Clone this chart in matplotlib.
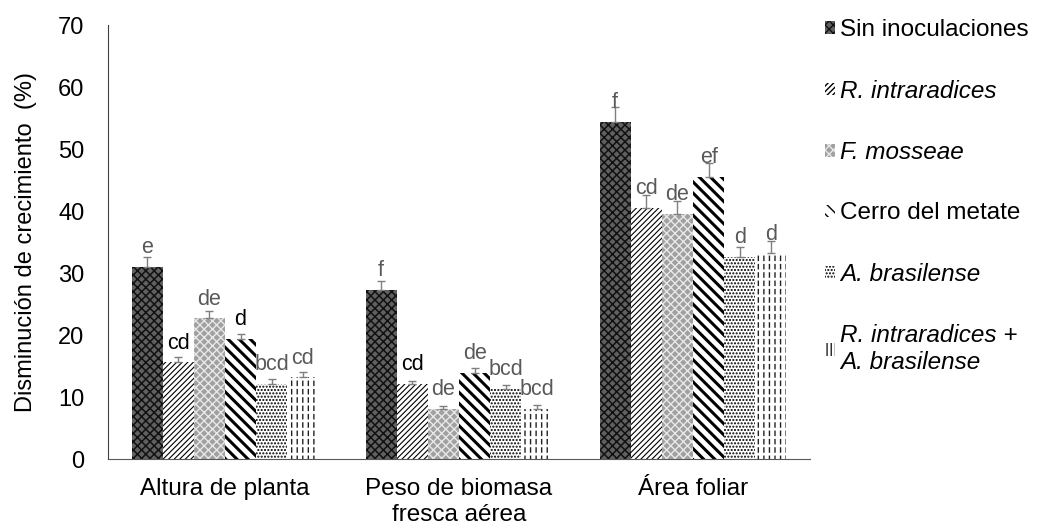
import numpy as np
import matplotlib.pyplot as plt
from matplotlib.patches import Patch

plt.rcParams['font.family'] = ['Liberation Sans', 'DejaVu Sans']

# variables medidas
variables = ['Altura de planta', 'Peso de biomasa\nfresca aérea', 'Área foliar']

# tratamientos
tratamientos = ['Sin inoculaciones', 'R. intraradices', 'F. mosseae',
                'Cerro del metate', 'A. brasilense',
                'R. intraradices +\nA. brasilense']
cursiva = [False, True, True, False, True, True]

# disminución de crecimiento (%) por tratamiento: [altura, biomasa, área]
sin_inoc = [31.0, 27.3, 54.4]
r_intra = [15.6, 12.1, 40.5]
f_moss = [22.7, 8.1, 39.6]
cerro = [19.4, 13.9, 45.5]
a_bras = [12.1, 11.3, 32.6]
r_a = [13.2, 8.1, 33.2]

# error estándar
err_sin = [1.6, 1.4, 2.4]
err_ri = [0.8, 0.5, 2.1]
err_fm = [1.2, 0.5, 2.1]
err_ce = [0.8, 0.8, 2.2]
err_ab = [0.8, 0.7, 1.6]
err_ra = [0.9, 0.6, 1.9]

# letras de comparación de medias
let_sin = ['e', 'f', 'f']
let_ri = ['cd', 'cd', 'cd']
let_fm = ['de', 'de', 'de']
let_ce = ['d', 'de', 'ef']
let_ab = ['bcd', 'bcd', 'd']
let_ra = ['cd', 'bcd', 'd']

valores = [sin_inoc, r_intra, f_moss, cerro, a_bras, r_a]
errores = [err_sin, err_ri, err_fm, err_ce, err_ab, err_ra]
letras = [let_sin, let_ri, let_fm, let_ce, let_ab, let_ra]

# estilo de cada serie: relleno, color de trama, trama, grosor de trama
estilos = [
    ('#606060', '#111111', 'xxxx', 1.1),
    ('white', 'black', '//////', 0.8),
    ('#a0a0a0', '#e8e8e8', 'xxxx', 1.0),
    ('white', 'black', '\\\\\\', 2.2),
    ('white', 'black', '.....', 1.0),
    ('white', '#222222', '|||', 1.0),
]
# letras en negro (el resto en gris)
negras = {(1, 0), (3, 0), (1, 1)}

fig = plt.figure(figsize=(10.46, 5.25), dpi=100)
ax = fig.add_axes([0.1033, 0.1257, 0.6711, 0.8263])

x = np.arange(len(variables))
ancho = 0.133
n = len(tratamientos)

for i in range(n):
    fc, hc, hatch, hlw = estilos[i]
    pos = x + (i - (n - 1) / 2) * ancho
    with plt.rc_context({'hatch.linewidth': hlw}):
        barras = ax.bar(pos, valores[i], ancho, facecolor=fc, edgecolor=hc,
                        hatch=hatch, linewidth=0)
    for b in barras:
        if hasattr(b, 'set_hatch_linewidth'):
            b.set_hatch_linewidth(hlw)
    if i == n - 1:
        # líneas blancas horizontales para cortar las verticales en guiones
        with plt.rc_context({'hatch.linewidth': 2.0}):
            cortes = ax.bar(pos, valores[i], ancho, facecolor='none',
                            edgecolor='white', hatch='--', linewidth=0)
        for b in cortes:
            if hasattr(b, 'set_hatch_linewidth'):
                b.set_hatch_linewidth(2.0)
    ax.errorbar(pos, valores[i], yerr=[np.zeros(3), errores[i]], fmt='none',
                ecolor='#7f7f7f', elinewidth=1, capsize=3, capthick=1)
    for j in range(len(variables)):
        col = 'black' if (i, j) in negras else '#595959'
        ax.text(pos[j], valores[i][j] + 2.2, letras[i][j],
                ha='center', va='baseline', fontsize=15.5, color=col)

ax.set_xlim(-0.5, 2.5)
ax.set_ylim(0, 70)
ax.set_yticks(np.arange(0, 71, 10))
ax.set_xticks(x)
ax.set_xticklabels(variables, fontsize=17.5)
ax.tick_params(axis='x', length=0, labelsize=17.5, pad=14)
ax.tick_params(axis='y', length=0, labelsize=17, pad=17)
ax.set_ylabel('Disminución de crecimiento  (%)', fontsize=17, labelpad=15)
for s in ['top', 'right']:
    ax.spines[s].set_visible(False)
ax.spines['left'].set_color('#404040')
ax.spines['bottom'].set_color('#595959')

handles = []
for i in range(n):
    fc, hc, hatch, hlw = estilos[i]
    if i == n - 1:
        hatch = '||||'
    handles.append(Patch(facecolor=fc, edgecolor=hc, hatch=hatch, linewidth=0))
leg = fig.legend(handles, tratamientos, loc='upper left',
                 bbox_to_anchor=(0.768, 1.005), frameon=False, fontsize=17.5,
                 handlelength=0.4, handleheight=0.4, handletextpad=0.2,
                 labelspacing=1.58)
for t, it in zip(leg.get_texts(), cursiva):
    if it:
        t.set_fontstyle('italic')

fig.savefig('out.png', dpi=100)
